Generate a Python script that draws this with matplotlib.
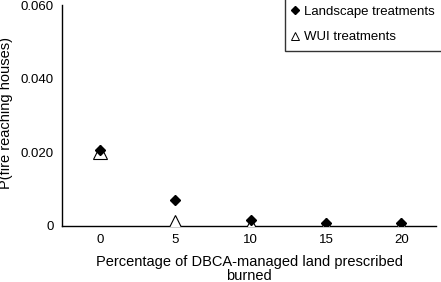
import numpy as np
import matplotlib
matplotlib.use('Agg')
import matplotlib.pyplot as plt

plt.rcParams['font.family'] = ['Liberation Sans', 'DejaVu Sans']

pct = [0, 5, 10, 15, 20]
landscape = [0.0205, 0.0070, 0.0015, 0.0007, 0.0007]
wui = [0.0200, 0.0010, 0.0003, 0.0002, 0.0002]
yticks = [0, 0.02, 0.04, 0.06]
ytick_labels = ['0', '0.020', '0.040', '0.060']

fig = plt.figure(figsize=(4.41, 2.82), dpi=100)
ax = fig.add_axes([0.141, 0.199, 0.848, 0.783])

ax.plot(pct, wui, linestyle='none', marker='^', markersize=10,
        markerfacecolor='white', markeredgecolor='black', markeredgewidth=0.8,
        label='WUI treatments', zorder=3)
ax.plot(pct, landscape, linestyle='none', marker='D', markersize=5.5,
        color='black', label='Landscape treatments', zorder=4)

ax.set_xlim(-2.5, 22.3)
ax.set_ylim(0, 0.060)
ax.set_xticks(pct)
ax.set_yticks(yticks)
ax.set_yticklabels(ytick_labels)
ax.tick_params(length=0, labelsize=9.5, pad=6)
ax.spines['top'].set_visible(False)
ax.spines['right'].set_visible(False)
ax.spines['left'].set_linewidth(1.0)
ax.spines['bottom'].set_linewidth(1.0)

ax.set_xlabel('Percentage of DBCA-managed land prescribed\nburned', fontsize=10.5, labelpad=6, linespacing=1.0)
ax.set_ylabel('P(fire reaching houses)', fontsize=10.5)
ax.yaxis.set_label_coords(-0.132, 0.51)

h, l = ax.get_legend_handles_labels()
leg = ax.legend(h[::-1], l[::-1], loc='upper right', fontsize=9.5, frameon=True,
                fancybox=False, edgecolor='black', borderaxespad=0,
                handlelength=0.4, handletextpad=0.45, labelspacing=1.0,
                borderpad=0.55, bbox_to_anchor=(1.015, 1.03))
leg.get_frame().set_linewidth(1.0)
leg.legend_handles[0].set_markersize(4)
leg.legend_handles[1].set_markersize(6)
leg.legend_handles[1].set_markeredgewidth(0.7)

fig.savefig('out.png', dpi=100)
